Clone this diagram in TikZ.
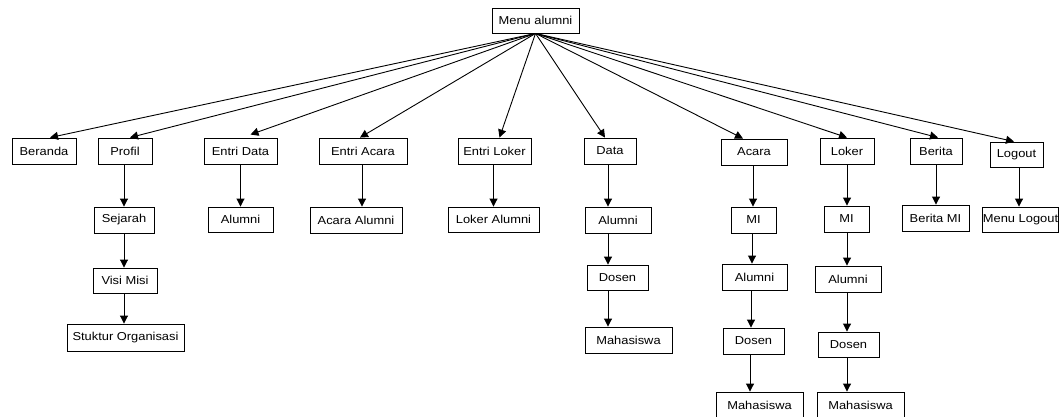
\documentclass[tikz,border=0pt]{standalone}
\usepackage{fontspec}
\setmainfont{Liberation Sans}
\newfontfamily\boxfont[FakeStretch=1.12]{Liberation Sans}
\usetikzlibrary{arrows.meta}
\begin{document}
\begin{tikzpicture}[x=1pt,y=-1pt,
  box/.style={draw=black, line width=0.9pt, inner sep=0pt, text=black,
              font=\boxfont\fontsize{11.5}{13}\selectfont},
  link/.style={draw=black, line width=0.9pt, -{Triangle[length=8pt,width=8pt]}}]
\useasboundingbox (0,0) rectangle (1059,416);
\fill[white] (0,0) rectangle (1059,416);

% root
\node[box, minimum width=87pt, minimum height=25pt] (menu) at (535.5,20.5) {Menu alumni};

% first level
\node[box, minimum width=64pt, minimum height=26pt] (beranda)    at (44,151)    {Beranda};
\node[box, minimum width=54pt, minimum height=26pt] (profil)     at (125,151)   {Profil};
\node[box, minimum width=73pt, minimum height=26pt] (entridata)  at (240.5,151) {Entri Data};
\node[box, minimum width=88pt, minimum height=26pt] (entriacara) at (363,151)   {Entri Acara};
\node[box, minimum width=73pt, minimum height=26pt] (entriloker) at (494.5,151) {Entri Loker};
\node[box, minimum width=52pt, minimum height=26pt] (data)       at (610,151)   {Data};
\node[box, minimum width=66pt, minimum height=26pt] (acara)      at (754,152)   {Acara};
\node[box, minimum width=54pt, minimum height=26pt] (loker)      at (847,151)   {Loker};
\node[box, minimum width=52pt, minimum height=26pt] (berita)     at (936,151)   {Berita};
\node[box, minimum width=53pt, minimum height=25pt] (logout)     at (1016.5,154.5) {Logout};

% Profil column
\node[box, minimum width=60pt,  minimum height=26pt] (sejarah)  at (124,220)   {Sejarah};
\node[box, minimum width=64pt,  minimum height=25pt] (visimisi) at (125,280.5) {Visi Misi};
\node[box, minimum width=117pt, minimum height=27pt] (struktur) at (125.5,337.5) {Stuktur Organisasi};

% single children
\node[box, minimum width=65pt, minimum height=25pt] (edalumni)    at (240.5,219.5) {Alumni};
\node[box, minimum width=92pt, minimum height=26pt] (acaraalumni) at (356,220)     {Acara Alumni};
\node[box, minimum width=91pt, minimum height=25pt] (lokeralumni) at (493.5,219.5) {Loker Alumni};
\node[box, minimum width=67pt, minimum height=26pt] (beritami)    at (935.5,218)   {Berita MI};
\node[box, minimum width=75pt, minimum height=25pt] (menulogout)  at (1020.5,219.5) {Menu Logout};

% Data column
\node[box, minimum width=66pt, minimum height=26pt] (dalumni) at (618,220)   {Alumni};
\node[box, minimum width=61pt, minimum height=25pt] (ddosen)  at (617.5,277.5) {Dosen};
\node[box, minimum width=87pt, minimum height=26pt] (dmhs)    at (628.5,340) {Mahasiswa};

% Acara column
\node[box, minimum width=45pt, minimum height=26pt] (ami)     at (753.5,220) {MI};
\node[box, minimum width=65pt, minimum height=26pt] (aalumni) at (754.5,277) {Alumni};
\node[box, minimum width=61pt, minimum height=26pt] (adosen)  at (753.5,341) {Dosen};
\node[box, minimum width=87pt, minimum height=26pt] (amhs)    at (759.5,405) {Mahasiswa};

% Loker column
\node[box, minimum width=45pt, minimum height=26pt] (lmi)     at (846.5,219) {MI};
\node[box, minimum width=66pt, minimum height=26pt] (lalumni) at (848,279)   {Alumni};
\node[box, minimum width=61pt, minimum height=25pt] (ldosen)  at (848.5,344.5) {Dosen};
\node[box, minimum width=87pt, minimum height=26pt] (lmhs)    at (860.5,405) {Mahasiswa};

% fan-out from the root
\draw[link] (menu.south) -- ([xshift=6pt]beranda.north);
\draw[link] (menu.south) -- ([xshift=5pt]profil.north);
\draw[link] (menu.south) -- ([xshift=10pt,yshift=3pt]entridata.north);
\draw[link] (menu.south) -- ([xshift=-3pt]entriacara.north);
\draw[link] (menu.south) -- ([xshift=5pt]entriloker.north);
\draw[link] (menu.south) -- ([xshift=-5pt]data.north);
\draw[link] (menu.south) -- ([xshift=-11pt]acara.north);
\draw[link] (menu.south) -- (loker.north);
\draw[link] (menu.south) -- ([xshift=2pt]berita.north);
\draw[link] (menu.south) -- ([xshift=-2.5pt]logout.north);

% vertical chains
\draw[link] ([xshift=-1pt]profil.south) -- ([xshift=-1pt]sejarah.north -| profil);
\draw[link] ([xshift=-1pt]sejarah.south -| profil) -- ([xshift=-1pt]visimisi.north -| profil);
\draw[link] ([xshift=-1pt]visimisi.south -| profil) -- ([xshift=-1pt]struktur.north -| profil);

\draw[link] (entridata.south) -- (edalumni.north -| entridata);
\draw[link] ([xshift=-1pt]entriacara.south) -- ([xshift=-1pt]acaraalumni.north -| entriacara);
\draw[link] ([xshift=-1pt]entriloker.south) -- ([xshift=-1pt]lokeralumni.north -| entriloker);
\draw[link] (berita.south) -- (beritami.north -| berita);
\draw[link] ([xshift=2.5pt]logout.south) -- ([xshift=2.5pt]menulogout.north -| logout);

\draw[link] ([xshift=-2pt]data.south) -- ([xshift=-2pt]dalumni.north -| data);
\draw[link] ([xshift=-2pt]dalumni.south -| data) -- ([xshift=-2pt]ddosen.north -| data);
\draw[link] ([xshift=-2pt]ddosen.south -| data) -- ([xshift=-2pt]dmhs.north -| data);

\draw[link] ([xshift=-1pt]acara.south) -- ([xshift=-1pt]ami.north -| acara);
\draw[link] ([xshift=-2pt]ami.south -| acara) -- ([xshift=-2pt]aalumni.north -| acara);
\draw[link] ([xshift=-3pt]aalumni.south -| acara) -- ([xshift=-3pt]adosen.north -| acara);
\draw[link] ([xshift=-4pt]adosen.south -| acara) -- ([xshift=-4pt]amhs.north -| acara);

\draw[link] (loker.south) -- (lmi.north -| loker);
\draw[link] (lmi.south -| loker) -- (lalumni.north -| loker);
\draw[link] (lalumni.south -| loker) -- (ldosen.north -| loker);
\draw[link] (ldosen.south -| loker) -- (lmhs.north -| loker);
\end{tikzpicture}
\end{document}
